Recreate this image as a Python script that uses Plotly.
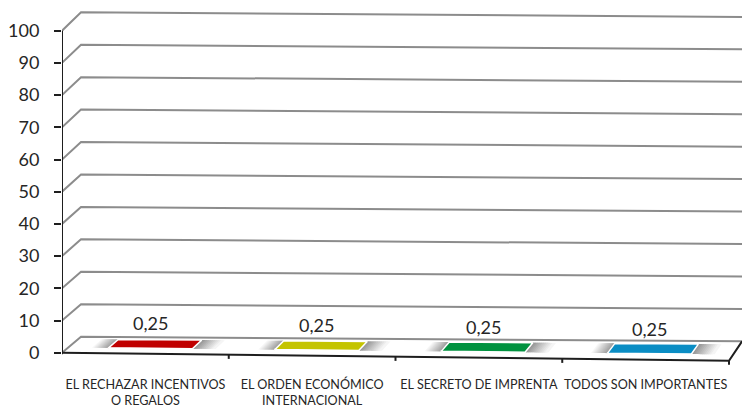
import plotly.graph_objects as go

# ---- data ----
categories = [
    "EL RECHAZAR INCENTIVOS<br>O REGALOS",
    "EL ORDEN ECONÓMICO<br>INTERNACIONAL",
    "EL SECRETO DE IMPRENTA",
    "TODOS SON IMPORTANTES",
]
values = [0.25, 0.25, 0.25, 0.25]
bar_colors = ["#C00000", "#C4C400", "#00923F", "#0A8DC4"]
y_ticks = list(range(0, 101, 10))

# ---- pseudo-3D projection (x: category units, v: value, d: depth 0=front..1=back) ----
NCAT = len(categories)
X0 = -0.5
DXL, DXR = 0.114, 0.078      # depth shift in x at left / right end
DY0 = 4.97                   # depth lift of the floor, value units
K = 1.0075                   # back wall scale relative to the front
SF, SB = 0.62, 0.36          # perspective droop per category, front / back


def proj(x, v, d):
    t = (x - X0) / NCAT
    px = x + d * (DXL + (DXR - DXL) * t)
    py = v * (1 + d * (K - 1)) + d * DY0 - (x - X0) * (SF + (SB - SF) * d)
    return px, py


def poly(points):
    xs = [p[0] for p in points]
    ys = [p[1] for p in points]
    return xs, ys


fig = go.Figure()

GRID = "#8C8C8C"
AXIS = "#1E1E1E"
TEXT = "#262626"

# walls: gridlines on the left side wall and the back wall
for v in y_ticks:
    xs, ys = poly([proj(X0, v, 0), proj(X0, v, 1), proj(X0 + NCAT + 0.3, v, 1)])
    fig.add_trace(go.Scatter(x=xs, y=ys, mode="lines",
                             line=dict(color=GRID, width=2),
                             hoverinfo="skip", showlegend=False))

# floor front edge and right edge
xs, ys = poly([proj(X0, 0, 0), proj(X0 + NCAT, 0, 0), proj(X0 + NCAT, 0, 1)])
fig.add_trace(go.Scatter(x=xs, y=ys, mode="lines",
                         line=dict(color=AXIS, width=2),
                         hoverinfo="skip", showlegend=False))

# category separators on the front edge
for k in range(1, NCAT + 1):
    xb = X0 + k
    p0 = proj(xb, 0, 0)
    xs, ys = [p0[0], p0[0]], [p0[1], p0[1] - 1.3]
    fig.add_trace(go.Scatter(x=xs, y=ys, mode="lines",
                             line=dict(color=AXIS, width=2),
                             hoverinfo="skip", showlegend=False))

# value axis line
p0 = proj(X0, 0, 0)
fig.add_trace(go.Scatter(x=[p0[0], p0[0]], y=[p0[1] - 0.5, 100], mode="lines",
                         line=dict(color=AXIS, width=2),
                         hoverinfo="skip", showlegend=False))

# bars (very flat slabs) with a soft grey sheen at both ends
W = 0.252
D0, D1 = 0.28, 0.80
NSTRIP = 12


def grey(f):
    # f=1 -> darkest grey, f=0 -> white
    g = int(round(255 - f * (255 - 140)))
    return f"rgb({g},{g},{g})"


for i, (val, col) in enumerate(zip(values, bar_colors)):
    c = i
    # left sheen: white -> grey towards the slab
    left_w, right_w = 0.10, 0.14
    for s in range(NSTRIP):
        a = c - W - left_w + left_w * s / NSTRIP
        b = c - W - left_w + left_w * (s + 1) / NSTRIP
        xs, ys = poly([proj(a, val, D0), proj(b + 0.01, val, D0),
                       proj(b + 0.01, val, D1), proj(a, val, D1), proj(a, val, D0)])
        fig.add_trace(go.Scatter(x=xs, y=ys, mode="lines", fill="toself",
                                 fillcolor=grey((s + 1) / NSTRIP * 0.85),
                                 line=dict(width=0), hoverinfo="skip", showlegend=False))
    # right sheen: grey next to the slab -> white
    for s in range(NSTRIP):
        a = c + W + right_w * s / NSTRIP
        b = c + W + right_w * (s + 1) / NSTRIP
        xs, ys = poly([proj(a - 0.01, val, D0), proj(b, val, D0),
                       proj(b, val, D1), proj(a - 0.01, val, D1), proj(a - 0.01, val, D0)])
        fig.add_trace(go.Scatter(x=xs, y=ys, mode="lines", fill="toself",
                                 fillcolor=grey(1 - s / NSTRIP),
                                 line=dict(width=0), hoverinfo="skip", showlegend=False))
    # front face
    xs, ys = poly([proj(c - W, 0, D0), proj(c + W, 0, D0), proj(c + W, val, D0),
                   proj(c - W, val, D0), proj(c - W, 0, D0)])
    fig.add_trace(go.Scatter(x=xs, y=ys, mode="lines", fill="toself",
                             fillcolor=col, line=dict(color="white", width=1.5),
                             hoverinfo="skip", showlegend=False))
    # top face
    xs, ys = poly([proj(c - W, val, D0), proj(c + W, val, D0), proj(c + W, val, D1),
                   proj(c - W, val, D1), proj(c - W, val, D0)])
    fig.add_trace(go.Scatter(x=xs, y=ys, mode="lines", fill="toself",
                             fillcolor=col, line=dict(color="white", width=1.5),
                             hoverinfo="skip", showlegend=False))
    # value label
    lx, ly = proj(c, val, D0)
    fig.add_annotation(x=lx, y=ly, text=f"{val:.2f}".replace(".", ","),
                       showarrow=False, yanchor="middle", xanchor="center",
                       yshift=25, font=dict(family="Lato", size=18, color=TEXT))

PX_PER_CAT = 166.75
PX_PER_VAL = 3.22
WIDTH, HEIGHT = 742, 409
ML, MB = 62, 44
plot_w = WIDTH - ML
plot_h = HEIGHT - MB
y_bottom = -(plot_h - 352.7) / PX_PER_VAL
fig.update_layout(
    width=WIDTH, height=HEIGHT,
    margin=dict(l=ML, r=0, t=0, b=MB),
    paper_bgcolor="white", plot_bgcolor="white",
    showlegend=False,
    xaxis=dict(range=[X0, X0 + plot_w / PX_PER_CAT],
               tickvals=list(range(NCAT)), ticktext=categories,
               showgrid=False, zeroline=False, showline=False, ticks="",
               tickfont=dict(family="Lato", size=12.6, color=TEXT),
               ticklabelstandoff=10, fixedrange=True),
    yaxis=dict(range=[y_bottom, y_bottom + plot_h / PX_PER_VAL],
               tickvals=y_ticks, ticktext=[str(v) for v in y_ticks],
               showgrid=False, zeroline=False, showline=False,
               ticks="outside", ticklen=7, tickwidth=2, tickcolor=AXIS,
               tickfont=dict(family="Lato", size=18, color=TEXT),
               ticklabelstandoff=11, fixedrange=True),
)

fig.write_html("out.html")
